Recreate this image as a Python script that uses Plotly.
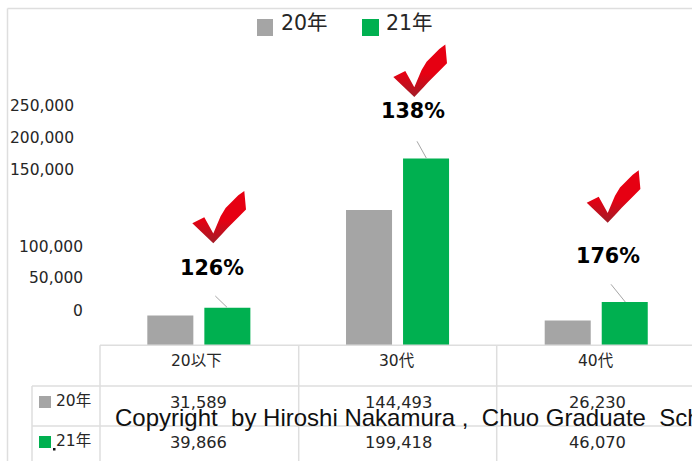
import plotly.graph_objects as go

# ---- data ----
categories = ["20以下", "30代", "40代"]
series_names = ["20年", "21年"]
values_20 = [31589, 144493, 26230]
values_21 = [39866, 199418, 46070]
growth_labels = ["126%", "138%", "176%"]
axis_labels = ["250,000", "200,000", "150,000", "100,000", "50,000", "0"]
copyright_text = "Copyright\u00a0\u00a0by Hiroshi Nakamura ,\u00a0\u00a0Chuo Graduate\u00a0\u00a0School"

# ---- styling ----
W, H = 692, 461
GRAY, GREEN = "#a5a5a5", "#00b050"
LINE = "#dedede"
INK = "#262626"
FONT = "DejaVu Sans, Noto Sans CJK JP, sans-serif"
PX_PER_UNIT = 0.000935
BASE_Y, TOP_Y, LEFT_X = 345, 9, 99.5


def px(x):
    return x / W


def py(y):
    return 1 - y / H


def label(x, y, text, size=15.5, anchor="center", color=INK, bold=False, family=FONT):
    return dict(
        x=px(x), y=py(y), xref="paper", yref="paper", text=f"<b>{text}</b>" if bold else text,
        showarrow=False, xanchor=anchor, yanchor="middle",
        font=dict(size=size, color=color, family=family), borderpad=0, borderwidth=0,
    )


def line(x0, y0, x1, y1, color=LINE, width=1.5):
    return dict(type="line", xref="paper", yref="paper", x0=px(x0), y0=py(y0), x1=px(x1), y1=py(y1),
                line=dict(color=color, width=width))


def box(x0, y0, x1, y1, color):
    return dict(type="rect", xref="paper", yref="paper", x0=px(x0), y0=py(y0), x1=px(x1), y1=py(y1),
                fillcolor=color, line=dict(width=0))


fig = go.Figure()
fig.add_bar(name=series_names[0], x=categories, y=values_20, marker=dict(color=GRAY, line=dict(width=0)))
fig.add_bar(name=series_names[1], x=categories, y=values_21, marker=dict(color=GREEN, line=dict(width=0)))

# check marks: one outline, placed at three spots
outline = [(-21, -20), (-9, -26), (0, -9.7), (3.5, -18), (7.3, -27), (12.3, -35.3), (19, -42.5), (25, -48),
           (31, -52.4), (32.7, -33.7), (26, -27), (19, -20.5), (14, -15), (9, -9.5), (0, 0), (-21, -20)]
for cx, cy in [(213.3, 243.3), (414.3, 97), (607.7, 222.7)]:
    fig.add_scatter(
        x=[cx + p[0] for p in outline], y=[cy + p[1] for p in outline],
        xaxis="x2", yaxis="y2", mode="lines", fill="toself", line=dict(width=0, color="rgba(0,0,0,0)"),
        fillgradient=dict(type="vertical",
                          colorscale=[[0, "#e60012"], [0.55, "#e60012"], [1, "#a11d28"]],
                          start=cy - 52, stop=cy),
        hoverinfo="skip", showlegend=False,
    )

annotations = [
    label(281, 23.5, series_names[0], size=20.5, anchor="left"),
    label(386, 23.5, series_names[1], size=20.5, anchor="left"),
]
for text, x, y in zip(axis_labels, [74, 74, 74, 83, 83, 83], [105.7, 137.5, 169.5, 246.5, 278, 310.5]):
    annotations.append(label(x, y, text, anchor="right"))
for text, x, y in zip(growth_labels, [212, 413, 608], [267.5, 111, 255.5]):
    annotations.append(label(x, y, text, size=20.7, color="#000000", bold=True))
for i, cx in enumerate([196.5, 396.5, 595.5]):
    annotations.append(label(cx, 360.5, categories[i]))
    annotations.append(label(cx + 2, 402, f"{values_20[i]:,}", size=16.3))
    annotations.append(label(cx + 2, 442.5, f"{values_21[i]:,}", size=16.3))
annotations += [
    label(56, 400.5, series_names[0], anchor="left"),
    label(56, 440.5, series_names[1], anchor="left"),
    label(115, 417, copyright_text, size=24, anchor="left", color="#111111",
          family="Liberation Sans, Arial, sans-serif"),
]

shapes = [
    line(7.5, 8.5, 692, 8.5), line(7.5, 8.5, 7.5, 461),
    line(100, 345.3, 692, 345.3), line(100, 345.3, 100, 461),
    line(298.7, 345.3, 298.7, 461), line(496.7, 345.3, 496.7, 461),
    line(32, 386, 692, 386), line(32, 426, 692, 426), line(32, 386, 32, 461),
    line(215.3, 296, 227, 307.3, "#a6a6a6", 1),
    line(417, 141.3, 426.3, 158, "#a6a6a6", 1),
    line(611, 284.3, 625.3, 302, "#a6a6a6", 1),
    box(257, 19, 273, 36, GRAY), box(362, 19, 379, 36, GREEN),
    box(39, 396, 51, 408, GRAY), box(39, 436, 51, 448, GREEN),
    box(53, 448, 55.5, 450.5, "#111111"),
]

fig.update_layout(
    width=W, height=H, margin=dict(l=0, r=0, t=0, b=0, pad=0),
    paper_bgcolor="white", plot_bgcolor="rgba(0,0,0,0)", showlegend=False,
    barmode="group", bargap=0.426, bargroupgap=0.193,
    xaxis=dict(domain=[px(LEFT_X), 1], range=[-0.5, 2.482], type="category",
               showticklabels=False, showgrid=False, zeroline=False, ticks="", showline=False),
    yaxis=dict(domain=[py(BASE_Y), py(TOP_Y)], range=[0, (BASE_Y - TOP_Y) / PX_PER_UNIT],
               showticklabels=False, showgrid=False, zeroline=False, ticks="", showline=False),
    xaxis2=dict(domain=[0, 1], range=[0, W], visible=False, anchor="y2"),
    yaxis2=dict(domain=[0, 1], range=[H, 0], visible=False, anchor="x2"),
    annotations=annotations, shapes=shapes,
)

fig.write_html("out.html", config={"displayModeBar": False},
               post_script="document.body.style.margin='0';")
